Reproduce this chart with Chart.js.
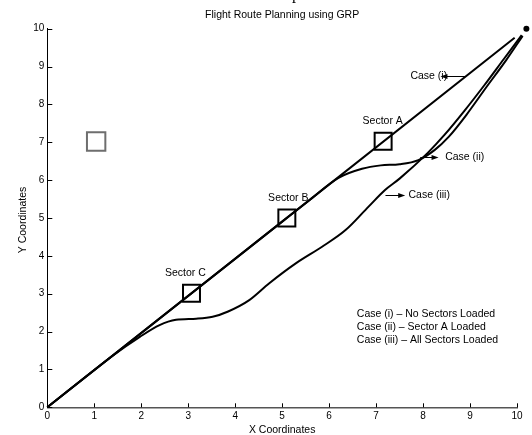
<!DOCTYPE html>
<html lang="en">
<head>
<meta charset="UTF-8">
<title>Flight Route Planning using GRP</title>
<script src="https://cdn.jsdelivr.net/npm/chart.js"></script>
<style>
  body { margin: 0; background: #fff; }
  #wrap { width: 532px; height: 435px; }
</style>
</head>
<body>
<div id="wrap"><canvas id="routeChart" width="532" height="435"></canvas></div>
<script>
// planned routes for the three loading cases
var caseOneX = [0, 9.95];
var caseOneY = [0, 9.76];

var caseTwoX = [0, 5.0, 5.6, 6.2, 6.7, 7.1, 7.5, 7.9, 8.25, 8.55, 8.92, 9.35, 9.77, 10.12];
var caseTwoY = [0, 4.905, 5.49, 6.06, 6.30, 6.39, 6.42, 6.53, 6.80, 7.15, 7.72, 8.46, 9.17, 9.81];

var caseThreeX = [0, 1.4, 1.97, 2.39, 2.74, 3.17, 3.52, 3.85, 4.3, 4.72, 5.29, 5.85, 6.35, 6.84, 7.19, 7.5, 8.1, 8.46, 8.88, 9.3, 9.72, 10.1];
var caseThreeY = [0, 1.37, 1.86, 2.17, 2.31, 2.34, 2.39, 2.53, 2.83, 3.27, 3.80, 4.24, 4.68, 5.30, 5.74, 6.04, 6.72, 7.20, 7.83, 8.50, 9.20, 9.83];

// sectors on the direct route
var sectorNames = ['Sector C', 'Sector B', 'Sector A'];
var sectorX = [3.07, 5.1, 7.15];
var sectorY = [3.01, 5.0, 7.03];
var sectorLabelX = [2.94, 5.13, 7.14];

// grey marker and destination point
var markerX = [1.04];
var markerY = [7.02];
var targetX = 10.2;
var targetY = 10;

var tickValues = [0, 1, 2, 3, 4, 5, 6, 7, 8, 9, 10];

// callouts: text, arrow from (x0,y) to (x1,y), text start x
var calloutText = ['Case (i)', 'Case (ii)', 'Case (iii)'];
var calloutY = [8.74, 6.60, 5.61];
var calloutFrom = [8.92, 7.94, 7.20];
var calloutTo = [8.37, 8.33, 7.62];
var calloutTextX = [7.73, 8.47, 7.69];

var legendLines = [
    'Case (i) \u2013 No Sectors Loaded',
    'Case (ii) \u2013 Sector A Loaded',
    'Case (iii) \u2013 All Sectors Loaded'
];
var legendX = 6.59;
var legendY = [2.46, 2.11, 1.77];

function pts(xs, ys) {
    return xs.map(function (x, i) { return { x: x, y: ys[i] }; });
}

var FONT = '10.5px "Liberation Sans", Arial, sans-serif';

var decorations = {
    id: 'decorations',
    afterDraw: function (chart) {
        var ctx = chart.ctx;
        var xs = chart.scales.x, ys = chart.scales.y;
        var area = chart.chartArea;
        ctx.save();

        // inward tick marks
        ctx.strokeStyle = '#000';
        ctx.lineWidth = 1;
        tickValues.forEach(function (v) {
            var px = Math.round(xs.getPixelForValue(v)) + 0.5;
            ctx.beginPath();
            ctx.moveTo(px, area.bottom);
            ctx.lineTo(px, area.bottom - 4);
            ctx.stroke();
            var py = Math.round(ys.getPixelForValue(v)) + 0.5;
            ctx.beginPath();
            ctx.moveTo(area.left, py);
            ctx.lineTo(area.left + 5, py);
            ctx.stroke();
        });

        ctx.fillStyle = '#000';

        // destination point, just past the end of the x axis
        ctx.beginPath();
        ctx.arc(xs.getPixelForValue(targetX), ys.getPixelForValue(targetY), 3, 0, Math.PI * 2);
        ctx.fill();

        ctx.font = FONT;

        // title and axis titles
        ctx.textAlign = 'center';
        ctx.textBaseline = 'middle';
        ctx.fillText('Flight Route Planning using GRP', (area.left + area.right) / 2, 15);
        ctx.fillText('X Coordinates', (area.left + area.right) / 2, 430);
        ctx.save();
        ctx.translate(23, (area.top + area.bottom) / 2 + 2);
        ctx.rotate(-Math.PI / 2);
        ctx.fillText('Y Coordinates', 0, 0);
        ctx.restore();

        // sector labels
        sectorNames.forEach(function (name, i) {
            ctx.fillText(name, xs.getPixelForValue(sectorLabelX[i]), ys.getPixelForValue(sectorY[i]) - 20);
        });

        // callouts with arrows
        ctx.textAlign = 'left';
        calloutText.forEach(function (t, i) {
            var y = ys.getPixelForValue(calloutY[i]);
            ctx.fillText(t, xs.getPixelForValue(calloutTextX[i]), y);
        });
        calloutText.forEach(function (t, i) {
            var y = Math.round(ys.getPixelForValue(calloutY[i])) + 0.5;
            var x0 = xs.getPixelForValue(calloutFrom[i]);
            var x1 = xs.getPixelForValue(calloutTo[i]);
            var dir = x1 > x0 ? 1 : -1;
            ctx.beginPath();
            ctx.moveTo(x0, y);
            ctx.lineTo(x1 - dir * 5, y);
            ctx.stroke();
            ctx.beginPath();
            ctx.moveTo(x1, y);
            ctx.lineTo(x1 - dir * 7, y - 2.5);
            ctx.lineTo(x1 - dir * 7, y + 2.5);
            ctx.closePath();
            ctx.fill();
        });

        // legend text
        legendLines.forEach(function (t, i) {
            ctx.fillText(t, xs.getPixelForValue(legendX), ys.getPixelForValue(legendY[i]));
        });

        // caption glyph cut by the top edge
        ctx.font = '16px "Liberation Serif", serif';
        ctx.textBaseline = 'alphabetic';
        ctx.fillText('p', 292, -1);

        ctx.restore();
    }
};

var lineStyle = {
    showLine: true,
    borderColor: '#000',
    borderWidth: 2,
    pointRadius: 0,
    cubicInterpolationMode: 'monotone',
    clip: false
};

new Chart(document.getElementById('routeChart'), {
    type: 'scatter',
    data: {
        datasets: [
            Object.assign({ label: 'Case (i)', data: pts(caseOneX, caseOneY) }, lineStyle),
            Object.assign({ label: 'Case (ii)', data: pts(caseTwoX, caseTwoY) }, lineStyle),
            Object.assign({ label: 'Case (iii)', data: pts(caseThreeX, caseThreeY) }, lineStyle),
            {
                label: 'Sectors',
                data: pts(sectorX, sectorY),
                pointStyle: 'rect',
                pointRadius: 12,
                backgroundColor: 'rgba(0,0,0,0)',
                borderColor: '#000',
                borderWidth: 2,
                clip: false
            },
            {
                label: 'Marker',
                data: pts(markerX, markerY),
                pointStyle: 'rect',
                pointRadius: 13,
                backgroundColor: 'rgba(0,0,0,0)',
                borderColor: '#6e6e6e',
                borderWidth: 2,
                clip: false
            }
        ]
    },
    options: {
        responsive: false,
        animation: false,
        devicePixelRatio: 1,
        layout: { padding: { top: 28.7, right: 13, left: 0, bottom: 0 } },
        plugins: {
            legend: { display: false },
            title: { display: false },
            tooltip: { enabled: false }
        },
        scales: {
            x: {
                type: 'linear',
                min: 0,
                max: 10,
                afterFit: function (s) { s.height = 27.7; },
                afterBuildTicks: function (s) { s.ticks = tickValues.map(function (v) { return { value: v }; }); },
                grid: { display: false, drawTicks: false },
                border: { display: true, color: '#555', width: 1.5 },
                ticks: {
                    color: '#000',
                    padding: 3,
                    maxRotation: 0,
                    autoSkip: false,
                    font: { family: '"Liberation Sans", Arial, sans-serif', size: 10 }
                }
            },
            y: {
                type: 'linear',
                min: 0,
                max: 10,
                afterFit: function (s) { s.width = 47.3; },
                afterBuildTicks: function (s) { s.ticks = tickValues.map(function (v) { return { value: v }; }); },
                grid: { display: false, drawTicks: false },
                border: { display: true, color: '#000', width: 1 },
                ticks: {
                    color: '#000',
                    padding: 3,
                    autoSkip: false,
                    font: { family: '"Liberation Sans", Arial, sans-serif', size: 10 }
                }
            }
        }
    },
    plugins: [decorations]
});
</script>
</body>
</html>
